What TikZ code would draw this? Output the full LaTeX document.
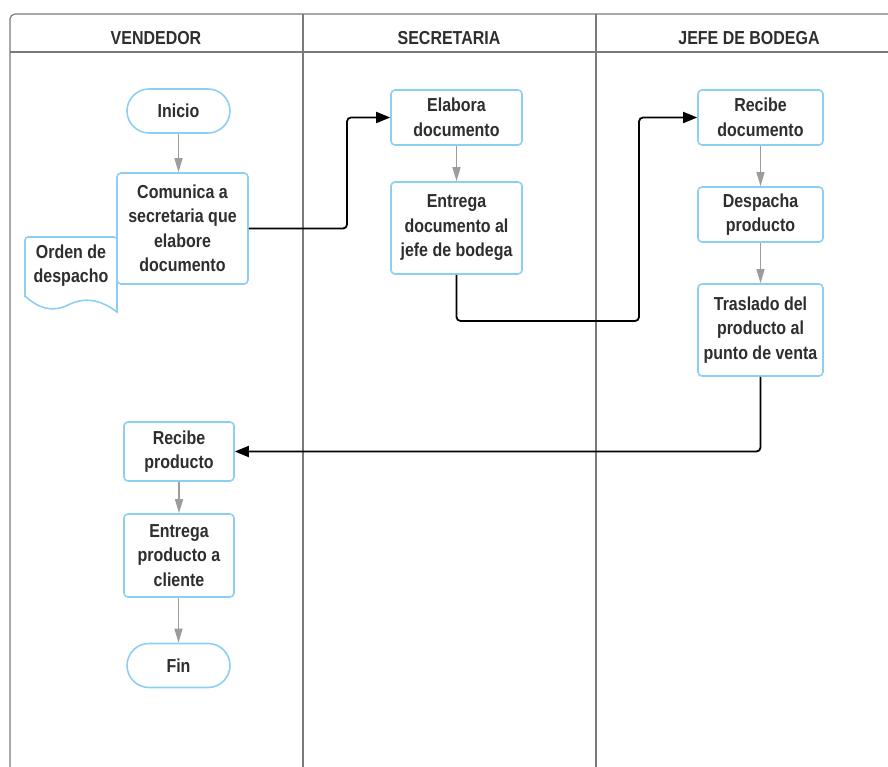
\documentclass[tikz,border=0pt]{standalone}
\usepackage{fontspec}
\setmainfont{Liberation Sans}[FakeStretch=0.85]
\usetikzlibrary{arrows.meta}
\definecolor{boxblue}{HTML}{8DCFF4}
\definecolor{txt}{HTML}{2E2E2E}
\definecolor{lane}{HTML}{7A7A7A}
\definecolor{flowgray}{HTML}{9C9C9C}
\begin{document}
\begin{tikzpicture}[x=1pt,y=-1pt,
  font=\fontsize{18.8}{24.5}\selectfont\bfseries,
  proc/.style={draw=boxblue, line width=1.6pt, rounded corners=4pt,
    align=center, text=txt, inner sep=0pt},
  term/.style={proc, rounded corners=22pt, minimum width=103pt, minimum height=44pt},
  lanetitle/.style={text=txt, inner sep=0pt},
  laneline/.style={draw=lane, line width=1.2pt},
  step arrow/.style={draw=flowgray, line width=1.4pt,
    -{Triangle[width=8pt,length=14pt]}},
  link/.style={draw=black, line width=1.8pt, rounded corners=4pt,
    -{Triangle[width=11pt,length=14pt]}}]
\useasboundingbox (0,0) rectangle (888,767);

% swimlane frame
\draw[laneline, rounded corners=5pt] (888,14) -- (10,14) -- (10,767);
\draw[laneline] (10,52) -- (888,52);
\draw[laneline] (303,14) -- (303,767);
\draw[laneline] (596,14) -- (596,767);
\node[lanetitle] (l1) at (156,38) {VENDEDOR};
\node[lanetitle] (l2) at (449,38) {SECRETARIA};
\node[lanetitle] (l3) at (749,38) {JEFE DE BODEGA};

% vendedor
\node[term] (inicio) at (178.5,111) {Inicio};
\node[proc, minimum width=131pt, minimum height=111pt] (comunica) at (182.5,228.5)
  {Comunica a\\secretaria que\\elabore\\documento};
\node[proc, minimum width=110pt, minimum height=59pt] (recprod) at (179,451.5)
  {Recibe\\producto};
\node[proc, minimum width=110pt, minimum height=83pt] (entprod) at (179,555.5)
  {Entrega\\producto a\\cliente};
\node[term] (fin) at (178.5,665.5) {Fin};

% document shape
\draw[draw=boxblue, line width=1.6pt, rounded corners=3pt]
  (117,300) -- (117,237) -- (25,237) -- (25,297);
\draw[draw=boxblue, line width=1.6pt]
  (25,296) .. controls (38,308) and (52,313) .. (68,305)
  .. controls (84,297) and (100,299) .. (117,312) -- (117,299);
\node[text=txt, align=center, inner sep=0pt] (orden) at (71,265.5) {Orden de\\despacho};

% secretaria
\node[proc, minimum width=131pt, minimum height=55pt] (elabora) at (456.5,117.5)
  {Elabora\\documento};
\node[proc, minimum width=131pt, minimum height=92pt] (entdoc) at (456.5,228)
  {Entrega\\documento al\\jefe de bodega};

% jefe de bodega
\node[proc, minimum width=125pt, minimum height=55pt] (recdoc) at (760.5,117.5)
  {Recibe\\documento};
\node[proc, minimum width=125pt, minimum height=55pt] (despacha) at (760.5,214.5)
  {Despacha\\producto};
\node[proc, minimum width=125pt, minimum height=92pt] (traslado) at (760.5,330)
  {Traslado del\\producto al\\punto de venta};

% steps inside a lane
\draw[step arrow] (inicio) -- (inicio |- comunica.north);
\draw[step arrow] (elabora) -- (entdoc);
\draw[step arrow] (recdoc) -- (despacha);
\draw[step arrow] (despacha) -- (traslado);
\draw[step arrow] (recprod) -- (entprod);
\draw[step arrow] (entprod.south -| fin) -- (fin);

% hand-offs between lanes
\draw[link] (comunica.east) -- (347,228.5) -- (347,117.5) -- (elabora.west);
\draw[link] (entdoc.south) -- (456.5,321) -- (639,321) -- (639,117.5) -- (recdoc.west);
\draw[link] (traslado.south) -- (760.5,451.5) -- (recprod.east);
\end{tikzpicture}
\end{document}
